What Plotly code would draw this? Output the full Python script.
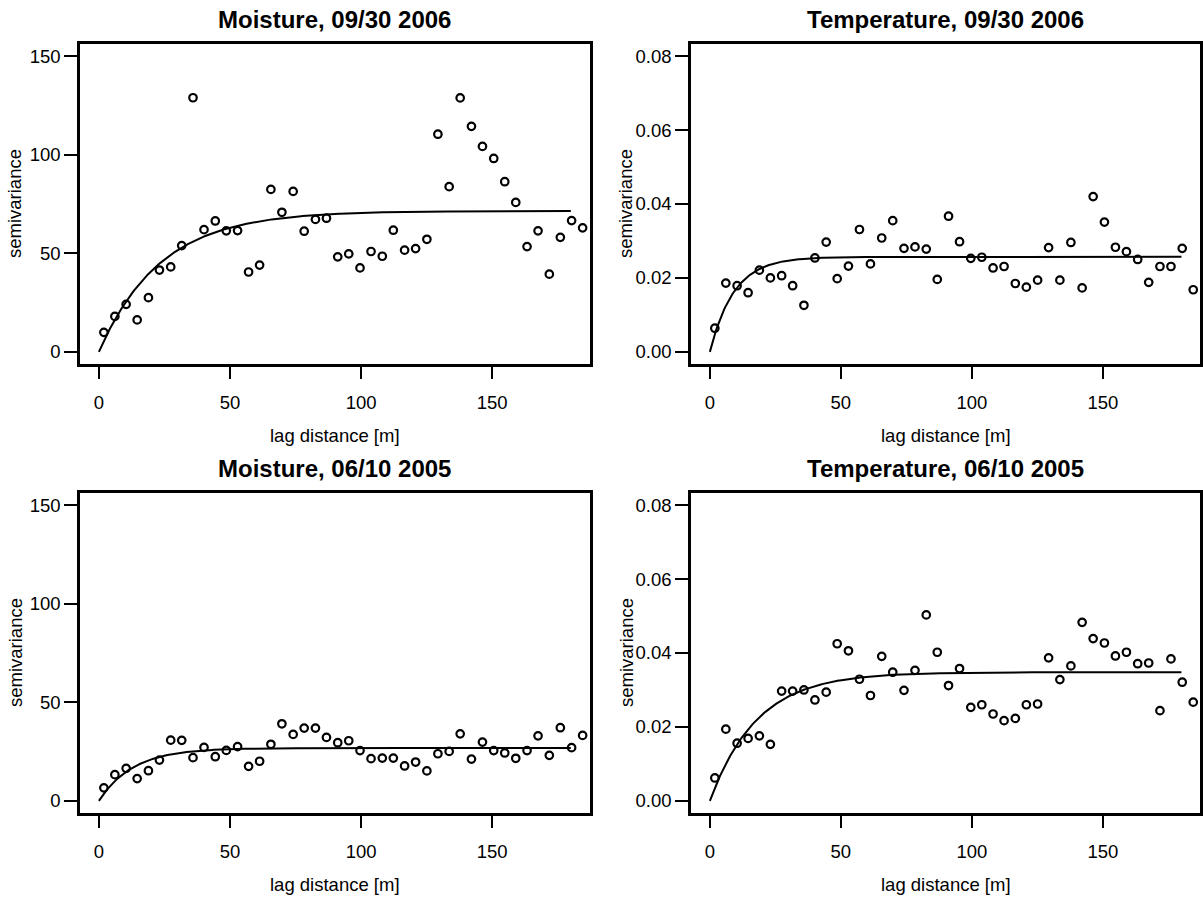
import numpy as np
import plotly.graph_objects as go

# ---------------- data ----------------
lag = [1.9, 6.1, 10.4, 14.6, 18.9, 23.1, 27.4, 31.6, 35.9, 40.1, 44.4, 48.6, 52.9, 57.1,
       61.3, 65.6, 69.8, 74.1, 78.3, 82.6, 86.8, 91.1, 95.3, 99.6, 103.8, 108.1, 112.3,
       116.6, 120.8, 125.1, 129.3, 133.6, 137.8, 142.1, 146.3, 150.6, 154.8, 159.0, 163.3,
       167.5, 171.8, 176.0, 180.3, 184.5]

moist_2006 = [9.9, 18.0, 24.1, 16.2, 27.5, 41.5, 43.1, 53.9, 128.9, 62.0, 66.4, 61.4, 61.5,
              40.5, 44.0, 82.4, 70.8, 81.4, 61.2, 67.2, 67.8, 48.2, 49.7, 42.6, 50.9, 48.5,
              61.7, 51.6, 52.4, 57.1, 110.4, 83.8, 128.8, 114.4, 104.2, 98.1, 86.3, 75.8,
              53.4, 61.4, 39.4, 58.1, 66.6, 62.9]

temp_2006 = [0.0064, 0.0186, 0.0179, 0.0160, 0.0221, 0.0200, 0.0206, 0.0179, 0.0126, 0.0254,
             0.0297, 0.0198, 0.0232, 0.0331, 0.0238, 0.0308, 0.0355, 0.0280, 0.0284, 0.0278,
             0.0196, 0.0367, 0.0298, 0.0253, 0.0256, 0.0227, 0.0231, 0.0185, 0.0175, 0.0194,
             0.0282, 0.0194, 0.0296, 0.0173, 0.0420, 0.0351, 0.0283, 0.0271, 0.0250, 0.0188,
             0.0231, 0.0231, 0.0280, 0.0168]

moist_2005 = [6.6, 13.3, 16.5, 11.3, 15.3, 20.7, 30.8, 30.7, 21.9, 27.1, 22.4, 25.6, 27.5,
              17.5, 20.1, 28.7, 39.1, 33.7, 36.9, 36.9, 32.2, 29.5, 30.5, 25.5, 21.4, 21.7,
              21.7, 17.7, 19.7, 15.2, 23.9, 25.1, 34.0, 21.2, 29.8, 25.5, 24.3, 21.6, 25.5,
              33.0, 23.1, 37.1, 27.0, 33.2]

temp_2005 = [0.0062, 0.0194, 0.0156, 0.0169, 0.0176, 0.0153, 0.0297, 0.0297, 0.0300, 0.0273,
             0.0294, 0.0425, 0.0406, 0.0329, 0.0285, 0.0391, 0.0348, 0.0299, 0.0353, 0.0503,
             0.0402, 0.0312, 0.0358, 0.0253, 0.0260, 0.0235, 0.0217, 0.0223, 0.0260, 0.0262,
             0.0387, 0.0328, 0.0365, 0.0483, 0.0439, 0.0427, 0.0392, 0.0402, 0.0371, 0.0373,
             0.0244, 0.0384, 0.0321, 0.0267]

# fitted exponential variogram models: (sill, range parameter), nugget 0
model_moist_2006 = (71.5, 23.5)
model_temp_2006 = (0.0257, 9.2)
model_moist_2005 = (26.8, 13.0)
model_temp_2005 = (0.0348, 18.0)
model_max_lag = 180

titles = ["Moisture, 09/30 2006", "Temperature, 09/30 2006",
          "Moisture, 06/10 2005", "Temperature, 06/10 2005"]
x_ticks = [0, 50, 100, 150]
moist_ticks = [0, 50, 100, 150]
temp_ticks = [0.00, 0.02, 0.04, 0.06, 0.08]
temp_tick_text = ["0.00", "0.02", "0.04", "0.06", "0.08"]

# ---------------- layout geometry (pixels) ----------------
W, H = 1203, 898
col_px = [(80, 589.7), (691, 1200.3)]
row_px = [(44.3, 363.7), (493.3, 812.7)]

def px_x(p):
    return p / W

def px_y(p):
    return 1 - p / H

FONT = "Liberation Sans, Arial, sans-serif"

panels = [
    (0, 0, moist_2006, model_moist_2006, "moist"),
    (0, 1, temp_2006, model_temp_2006, "temp"),
    (1, 0, moist_2005, model_moist_2005, "moist"),
    (1, 1, temp_2005, model_temp_2005, "temp"),
]

fig = go.Figure()
layout = dict(
    width=W, height=H,
    margin=dict(l=0, r=0, t=0, b=0),
    paper_bgcolor="white", plot_bgcolor="white",
    showlegend=False,
    font=dict(family=FONT, color="black", size=18.5),
)
annotations = []

for i, (r, c, vals, model, kind) in enumerate(panels):
    n = i + 1
    xa = "x" if n == 1 else f"x{n}"
    ya = "y" if n == 1 else f"y{n}"
    sill, a = model
    h = np.linspace(0, model_max_lag, 400)
    gamma = sill * (1 - np.exp(-h / a))
    fig.add_trace(go.Scatter(x=h, y=gamma, mode="lines", xaxis=xa, yaxis=ya,
                             line=dict(color="black", width=2), hoverinfo="skip"))
    fig.add_trace(go.Scatter(x=lag, y=vals, mode="markers", xaxis=xa, yaxis=ya,
                             marker=dict(symbol="circle-open", size=7.5, color="black",
                                         line=dict(width=2.2, color="black"))))

    x0, x1 = col_px[c]
    y0, y1 = row_px[r]
    common = dict(showgrid=False, zeroline=False, showline=True, mirror=True,
                  linecolor="black", linewidth=2.5, ticks="outside", ticklen=13,
                  tickwidth=2, tickcolor="black", tickfont=dict(size=18.5, family=FONT))
    xkey = "xaxis" if n == 1 else f"xaxis{n}"
    ykey = "yaxis" if n == 1 else f"yaxis{n}"
    layout[xkey] = dict(domain=[px_x(x0), px_x(x1)], anchor=ya, range=[-7.2, 187.2],
                        tickvals=x_ticks, ticklabelstandoff=7, **common)
    if kind == "moist":
        layout[ykey] = dict(domain=[px_y(y1), px_y(y0)], anchor=xa, range=[-6, 156],
                            tickvals=moist_ticks, **common)
    else:
        layout[ykey] = dict(domain=[px_y(y1), px_y(y0)], anchor=xa, range=[-0.0032, 0.0832],
                            tickvals=temp_ticks, ticktext=temp_tick_text, **common)

    cx = (x0 + x1) / 2
    annotations.append(dict(text=f"<b>{titles[i]}</b>", x=px_x(cx), y=px_y(y0 - 24.5),
                            xref="paper", yref="paper", xanchor="center", yanchor="middle",
                            showarrow=False, font=dict(size=24, family=FONT)))
    annotations.append(dict(text="lag distance [m]", x=px_x(cx), y=px_y(y1 + 72),
                            xref="paper", yref="paper", xanchor="center", yanchor="middle",
                            showarrow=False, font=dict(size=18.5, family=FONT)))
    annotations.append(dict(text="semivariance", x=px_x(x0 - 65), y=px_y((y0 + y1) / 2),
                            xref="paper", yref="paper", xanchor="center", yanchor="middle",
                            textangle=-90, showarrow=False, font=dict(size=18.5, family=FONT)))

layout["annotations"] = annotations
fig.update_layout(**layout)
fig.write_html("out.html", config={"displayModeBar": False})
